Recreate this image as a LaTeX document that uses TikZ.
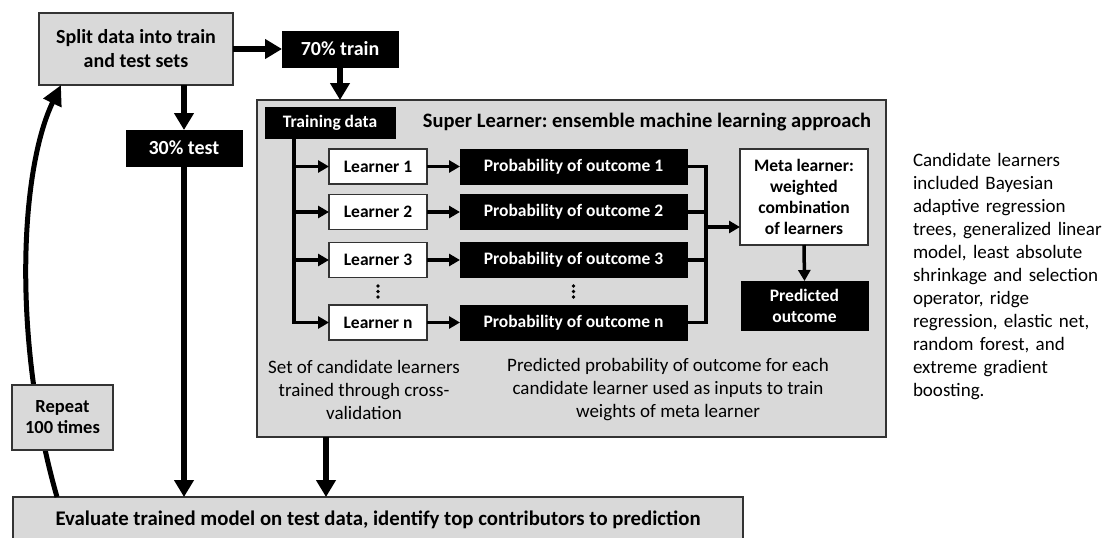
\documentclass[tikz,border=0pt]{standalone}
\usepackage{fontspec}
\setmainfont{Carlito}
\usetikzlibrary{arrows.meta}
\definecolor{boxgray}{HTML}{D9D9D9}
\definecolor{edgegray}{HTML}{333333}
\frenchspacing
\begin{document}
\begin{tikzpicture}[x=1pt,y=-1pt,
  base/.style={inner sep=0pt, outer sep=0pt, align=center},
  graybox/.style={base, draw=edgegray, line width=1.3pt, fill=boxgray},
  whitebox/.style={base, draw=edgegray, line width=1.3pt, fill=white},
  blackbox/.style={base, draw=black, line width=1pt, fill=black, text=white},
  fbig/.style={font=\fontsize{20}{24}\selectfont\bfseries},
  fmid/.style={font=\fontsize{17.5}{21}\selectfont\bfseries},
  fcap/.style={font=\fontsize{19}{23}\selectfont},
  mainarrow/.style={line width=5.5pt, -{Triangle[length=17pt,width=19pt]}},
  innerarrow/.style={line width=3.5pt, -{Triangle[length=11pt,width=12pt]}},
  innerline/.style={line width=3.5pt},
]
\useasboundingbox (0,0) rectangle (1104,538);

% outer boxes
\node[graybox, fbig, minimum width=194pt, minimum height=72pt] (split) at (136,49) {Split data into train\\and test sets};
\node[blackbox, fbig, minimum width=116pt, minimum height=36pt] (train70) at (340,49) {70\% train};
\node[blackbox, fbig, minimum width=116pt, minimum height=36pt] (test30) at (184,148) {30\% test};
\node[graybox, minimum width=629pt, minimum height=337pt] (super) at (571.5,268.5) {};
\node[graybox, font=\fontsize{20.8}{24}\selectfont\bfseries, minimum width=730pt, minimum height=45pt] (bottom) at (378,519.5) {Evaluate trained model on test data, identify top contributors to prediction};

% inside super learner
\node[blackbox, fmid, minimum width=130pt, minimum height=31pt] (td) at (330,122.5) {Training data};
\node[base, font=\fontsize{20.5}{24}\selectfont\bfseries] (title) at (647,122) {Super Learner: ensemble machine learning approach};

\node[whitebox, fmid, minimum width=98pt, minimum height=35pt] (l1) at (378,166.5) {Learner 1};
\node[whitebox, fmid, minimum width=98pt, minimum height=35pt] (l2) at (378,212) {Learner 2};
\node[whitebox, fmid, minimum width=98pt, minimum height=35pt] (l3) at (378,260) {Learner 3};
\node[whitebox, fmid, minimum width=98pt, minimum height=35pt] (ln) at (378,322.5) {Learner n};

\node[blackbox, fmid, minimum width=227pt, minimum height=35pt] (p1) at (573.5,166.5) {Probability of outcome 1};
\node[blackbox, fmid, minimum width=227pt, minimum height=35pt] (p2) at (573.5,212) {Probability of outcome 2};
\node[blackbox, fmid, minimum width=227pt, minimum height=35pt] (p3) at (573.5,260) {Probability of outcome 3};
\node[blackbox, fmid, minimum width=227pt, minimum height=35pt] (pn) at (573.5,322.5) {Probability of outcome n};

\node[whitebox, fmid, minimum width=128pt, minimum height=96pt] (meta) at (804,197) {Meta learner:\\weighted\\combination\\of learners};
\node[blackbox, fmid, minimum width=127pt, minimum height=49pt] (pred) at (804.5,305.5) {Predicted\\outcome};

\node[base, fcap] (cap1) at (364,390) {Set of candidate learners\\trained through cross-\\validation};
\node[base, fcap] (cap2) at (668,390) {Predicted probability of outcome for each\\candidate learner used as inputs to train\\weights of meta learner};

% vertical ellipses
\foreach \yy in {286,291.5,297} {
  \fill (l3.south |- 0,\yy) circle (1.9pt);
  \fill (p3.south |- 0,\yy) circle (1.9pt);
}

% right-hand note
\node[base, fcap, align=left, text width=190pt, anchor=base west] (note) at (913,166.5) {Candidate learners\\included Bayesian\\adaptive regression\\trees, generalized linear\\model, least absolute\\shrinkage and selection\\operator, ridge\\regression, elastic net,\\random forest, and\\extreme gradient\\boosting.};

% main arrows
\draw[mainarrow] (split.east) -- (train70.west);
\draw[mainarrow] (train70.south) -- (train70.south |- super.north);
\draw[mainarrow] (test30.north |- split.south) -- (test30.north);
\draw[mainarrow] (test30.south) -- (test30.south |- bottom.north);
\coordinate (sx) at ([xshift=69pt]super.south west);
\draw[mainarrow] (sx) -- (sx |- bottom.north);

% training data trunk
\coordinate (trunk) at (294,0);
\draw[innerline] (trunk |- td.south) -- (trunk |- ln.west);
\draw[innerarrow] (trunk |- l1.west) -- (l1.west);
\draw[innerarrow] (trunk |- l2.west) -- (l2.west);
\draw[innerarrow] (trunk |- l3.west) -- (l3.west);
\draw[innerarrow, line join=miter] (trunk |- td.south) -- (trunk |- ln.west) -- (ln.west);

% learners to probabilities
\draw[innerarrow] (l1.east) -- (p1.west);
\draw[innerarrow] (l2.east) -- (p2.west);
\draw[innerarrow] (l3.east) -- (p3.west);
\draw[innerarrow] (ln.east) -- (pn.west);

% collector
\coordinate (col) at (706,0);
\draw[innerline, line join=miter] (p1.east) -- (col |- p1.east) -- (col |- pn.east) -- (pn.east);
\draw[innerline] (p2.east) -- (col |- p2.east);
\draw[innerline] (p3.east) -- (col |- p3.east);
\coordinate (ma) at ([yshift=-30pt]meta.west);
\draw[innerarrow] (col |- ma) -- (ma);
\draw[innerarrow] (meta.south) -- (pred.north);

% repeat loop
\draw[line width=5pt, -{Triangle[length=20pt,width=19pt]}] ([xshift=44pt]bottom.north west) .. controls (12,340) and (20,170) .. ([xshift=22pt]split.south west);
\node[graybox, font=\fontsize{18.5}{21}\selectfont\bfseries, minimum width=101pt, minimum height=65pt] (repeat) at (62.5,417.5) {Repeat\\100 times};
\end{tikzpicture}
\end{document}
